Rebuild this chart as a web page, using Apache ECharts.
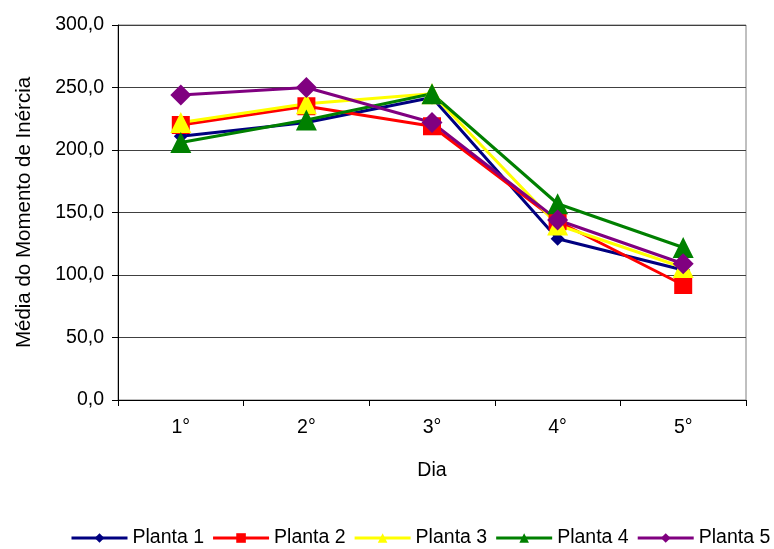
<!DOCTYPE html>
<html>
<head>
<meta charset="utf-8">
<script src="https://cdn.jsdelivr.net/npm/echarts@6/dist/echarts.min.js"></script>
<style>
  html, body { margin: 0; padding: 0; background: #fff; }
  #chart { width: 774px; height: 549px; }
</style>
</head>
<body>
<div id="chart"></div>
<script>
// Days of measurement
const dias = ['1°', '2°', '3°', '4°', '5°'];

// Mean moment of inertia per plant
const planta1 = [211, 222, 242, 129, 104];
const planta2 = [220, 235, 219, 143, 92];
const planta3 = [222, 237, 245, 140, 106];
const planta4 = [206, 224, 245, 157, 122];
const planta5 = [244, 250, 222, 144, 109];

const seriesDefs = [
  { name: 'Planta 1', data: planta1, color: '#000080', symbol: 'diamond', size: 14 },
  { name: 'Planta 2', data: planta2, color: '#FF0000', symbol: 'rect', size: 18 },
  { name: 'Planta 3', data: planta3, color: '#FFFF00', symbol: 'triangle', size: 21 },
  { name: 'Planta 4', data: planta4, color: '#008000', symbol: 'triangle', size: 21 },
  { name: 'Planta 5', data: planta5, color: '#800080', symbol: 'diamond', size: 21 }
];

const fmt = v => v.toFixed(1).replace('.', ',');
const font = 'Liberation Sans, Arial, sans-serif';
const fs = 19.5;

const chart = echarts.init(document.getElementById('chart'));
chart.setOption({
  animation: false,
  backgroundColor: '#ffffff',
  textStyle: { fontFamily: font, color: '#000' },
  grid: {
    left: 118, right: 28, top: 25, bottom: 149,
    show: true, borderColor: '#808080', borderWidth: 1
  },
  legend: {
    top: 528,
    left: 70,
    width: 704,
    padding: 0,
    itemWidth: 56,
    itemHeight: 12,
    itemGap: 7.5,
    lineStyle: { width: 3 },
    textStyle: { fontFamily: font, fontSize: fs, color: '#000' },
    data: seriesDefs.map(s => s.name)
  },
  xAxis: {
    type: 'category',
    data: dias,
    boundaryGap: true,
    name: 'Dia',
    nameLocation: 'middle',
    nameGap: 61,
    nameTextStyle: { fontFamily: font, fontSize: fs, color: '#000' },
    axisLine: { lineStyle: { color: '#000', width: 1 } },
    axisTick: { show: true, length: 6, lineStyle: { color: '#000' } },
    axisLabel: { fontFamily: font, fontSize: fs, color: '#000', margin: 18 },
    splitLine: { show: false }
  },
  yAxis: {
    type: 'value',
    min: 0, max: 300, interval: 50,
    name: 'Média do Momento de Inércia',
    nameLocation: 'middle',
    nameGap: 83,
    nameTextStyle: { fontFamily: font, fontSize: 20.5, color: '#000' },
    axisLine: { show: true, lineStyle: { color: '#000', width: 1 } },
    axisTick: { show: true, length: 6, lineStyle: { color: '#000' } },
    axisLabel: { fontFamily: font, fontSize: fs, color: '#000', margin: 14, formatter: fmt },
    splitLine: { show: true, lineStyle: { color: '#404040', width: 1 } }
  },
  series: seriesDefs.map(s => ({
    name: s.name,
    type: 'line',
    data: s.data,
    symbol: s.symbol,
    symbolSize: s.size,
    showAllSymbol: true,
    lineStyle: { color: s.color, width: 3 },
    itemStyle: { color: s.color, borderWidth: 0 },
    emphasis: { disabled: true }
  }))
});
</script>
</body>
</html>
